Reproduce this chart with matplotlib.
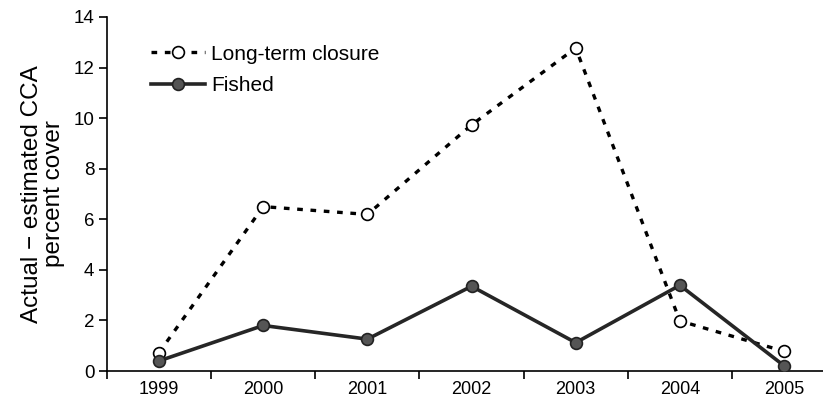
import matplotlib
matplotlib.use("Agg")
import matplotlib.pyplot as plt
from matplotlib.ticker import FixedLocator

years = [1999, 2000, 2001, 2002, 2003, 2004, 2005]
long_term = [0.73, 6.5, 6.19, 9.73, 12.77, 1.98, 0.78]
fished = [0.4, 1.8, 1.26, 3.35, 1.12, 3.39, 0.21]
yticks = [0, 2, 4, 6, 8, 10, 12, 14]

plt.rcParams['font.family'] = ['Liberation Sans', 'DejaVu Sans']

fig = plt.figure(figsize=(8.23, 4.01), dpi=100)
ax = fig.add_axes([0.130, 0.0748, 0.872, 0.883])

ax.plot(years, long_term, linestyle=(0, (1.7, 2.3)), color='black', lw=2.4,
        marker='o', markersize=8.5, markerfacecolor='white', markeredgecolor='black',
        markeredgewidth=1.2, label='Long-term closure', zorder=3)
ax.plot(years, fished, linestyle='-', color='#262626', lw=2.6,
        marker='o', markersize=8.5, markerfacecolor='#555555', markeredgecolor='#222222',
        markeredgewidth=1.2, label='Fished', zorder=4)

ax.set_xlim(1998.5, 2005.39)
ax.set_ylim(0, 14)
ax.set_yticks(yticks)
ax.set_xticks(years)
ax.set_xticklabels([str(y) for y in years])
ax.xaxis.set_minor_locator(FixedLocator([y - 0.5 for y in years]))
ax.tick_params(axis='x', which='major', length=0, labelsize=13, pad=7)
ax.tick_params(axis='x', which='minor', length=6, width=1.2, direction='out')
ax.tick_params(axis='y', length=6, width=1.2, direction='out', labelsize=13.5, pad=3)

for s in ['top', 'right']:
    ax.spines[s].set_visible(False)
ax.spines['left'].set_linewidth(1.2)
ax.spines['bottom'].set_linewidth(1.2)

ax.set_ylabel('Actual \u2212 estimated CCA\npercent cover', fontsize=17.5, linespacing=1.0, labelpad=6)

leg = ax.legend(loc='upper left', bbox_to_anchor=(0.035, 0.975), frameon=False,
                fontsize=15, handlelength=2.6, handletextpad=0.3, labelspacing=0.6)

fig.savefig('out.png', dpi=100)
